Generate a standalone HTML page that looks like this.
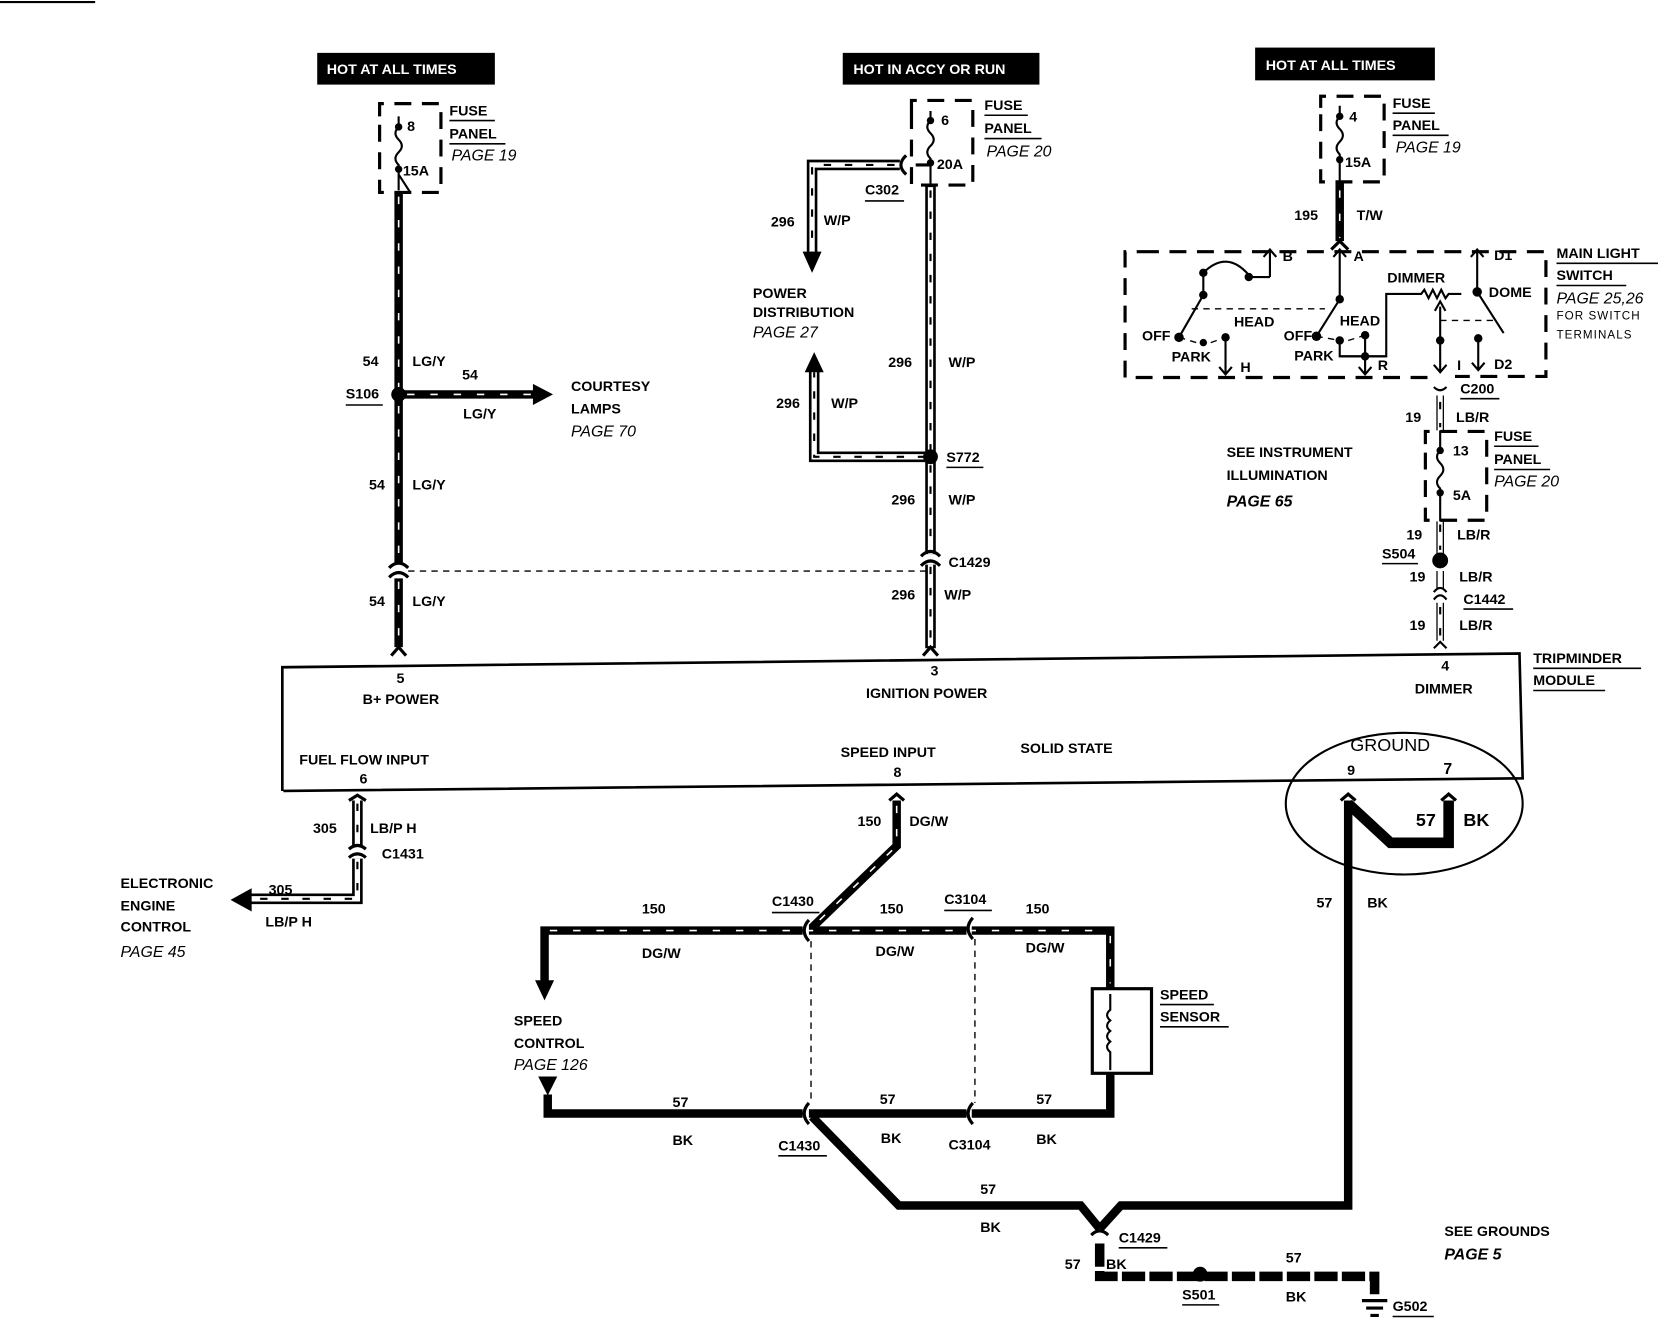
<!DOCTYPE html>
<html><head><meta charset="utf-8"><style>
html,body{margin:0;padding:0;background:#fff;width:1658px;height:1344px;overflow:hidden}
svg{display:block}
text{font-family:"Liberation Sans",sans-serif;font-weight:bold;font-size:13.5px;fill:#000}
.i{font-style:italic;font-weight:normal;font-size:15px}
.s{font-size:11px}
.w{fill:#fff}
.bw{fill:none;stroke:#000;stroke-width:8}
.st{fill:none;stroke:#fff;stroke-width:1.5;stroke-dasharray:7 15}
.hb{fill:none;stroke:#000;stroke-width:10}
.hw{fill:none;stroke:#fff;stroke-width:5}
.hd{fill:none;stroke:#000;stroke-width:2;stroke-dasharray:7 13}
.t{fill:none;stroke:#000;stroke-width:2}
.t3{fill:none;stroke:#000;stroke-width:3}
.d{fill:none;stroke:#000;stroke-width:3;stroke-dasharray:16 10}
.dl{fill:none;stroke:#000;stroke-width:1.3;stroke-dasharray:6 5}
.u{stroke:#000;stroke-width:1.5}
</style></head><body>
<svg width="1658" height="1344" viewBox="0 0 1568 1271" preserveAspectRatio="none" xmlns="http://www.w3.org/2000/svg">
<line x1="0" y1="2" x2="90" y2="2" stroke="#000" stroke-width="2"/>

<!-- header boxes -->
<rect x="300" y="50" width="168" height="30" fill="#000"/><text x="309" y="70" class="w">HOT AT ALL TIMES</text>
<rect x="797" y="50" width="186" height="30" fill="#000"/><text x="807" y="70" class="w">HOT IN ACCY OR RUN</text>
<rect x="1187" y="45" width="170" height="31" fill="#000"/><text x="1197" y="66" class="w">HOT AT ALL TIMES</text>

<!-- fuse 1 -->
<path class="d" d="M359 110 V98 H417 V182 H359 V110"/>
<path class="t" d="M377 110 V120 q-6 6 0 12 q6 6 0 12 q-6 6 0 12 V180 M377 165 L388 182"/>
<circle cx="377" cy="120" r="3.5"/><circle cx="377" cy="160" r="3.5"/>
<text x="385" y="124">8</text><text x="381" y="166">15A</text>
<text x="425" y="109">FUSE</text><line x1="425" y1="114" x2="468" y2="114" class="u"/>
<text x="425" y="131">PANEL</text><line x1="425" y1="136" x2="478" y2="136" class="u"/>
<text x="427" y="152" class="i">PAGE 19</text>

<!-- left wire -->
<path class="bw" d="M377 182 V533 M377 547 V612"/><path class="st" d="M377 186 V533 M377 550 V610"/>
<path class="bw" d="M377 373 H508"/><path class="st" d="M385 373 H505"/>
<polygon points="504,363 523,373 504,383"/>
<circle cx="377" cy="373" r="7"/>
<path class="t3" d="M368 537 Q377 528 386 537 M368 546 Q377 537 386 546"/>
<path class="t3" d="M370 620 L377 612 L384 620"/>
<path class="dl" d="M386 540 H878"/>
<text x="343" y="346">54</text><text x="390" y="346">LG/Y</text>
<text x="327" y="377">S106</text><line x1="327" y1="383" x2="362" y2="383" class="u"/>
<text x="437" y="359">54</text><text x="438" y="396">LG/Y</text>
<text x="540" y="370">COURTESY</text><text x="540" y="391">LAMPS</text><text x="540" y="413" class="i">PAGE 70</text>
<text x="349" y="463">54</text><text x="390" y="463">LG/Y</text>
<text x="349" y="573">54</text><text x="390" y="573">LG/Y</text>

<!-- fuse 2 -->
<path class="d" d="M862 106 V95 H920 V175 H862 V106"/>
<path class="t" d="M880 105 V114 q-6 6 0 12 q6 6 0 12 q-6 6 0 12 V175"/>
<circle cx="880" cy="114" r="3.5"/><circle cx="880" cy="154" r="3.5"/>
<text x="890" y="118">6</text><text x="886" y="160">20A</text>
<text x="931" y="104">FUSE</text><line x1="931" y1="109" x2="972" y2="109" class="u"/>
<text x="931" y="126">PANEL</text><line x1="931" y1="131" x2="985" y2="131" class="u"/>
<text x="933" y="148" class="i">PAGE 20</text>
<path class="hb" d="M880 175 V524 M880 534 V613"/><path class="hw" d="M880 177 V524 M880 534 V611"/><path class="hd" d="M880 180 V520 M880 536 V608"/>
<path class="hb" d="M851 156 H768 V244"/><path class="hw" d="M851 156 H768 V244"/><path class="hd" d="M846 156 H768 V240"/>
<polygon points="759,238 777,238 768,258"/>
<path class="t3" d="M857 147 Q847 156 857 165 M866 156 L880 156"/>
<path class="hb" d="M880 432 H770 V350"/><path class="hw" d="M880 432 H770 V350"/><path class="hd" d="M875 432 H770 V352"/>
<polygon points="761,352 779,352 770,333"/>
<circle cx="880" cy="432" r="7"/>
<path class="t3" d="M871 526 Q880 517 889 526 M871 535 Q880 526 889 535"/>
<path class="t3" d="M873 620 L880 612 L887 620"/>
<text x="818" y="184">C302</text><line x1="818" y1="190" x2="855" y2="190" class="u"/>
<text x="729" y="214">296</text><text x="779" y="213">W/P</text>
<text x="712" y="282">POWER</text><text x="712" y="300">DISTRIBUTION</text><text x="712" y="319" class="i">PAGE 27</text>
<text x="840" y="347">296</text><text x="897" y="347">W/P</text>
<text x="734" y="386">296</text><text x="786" y="386">W/P</text>
<text x="895" y="437">S772</text><line x1="895" y1="442" x2="930" y2="442" class="u"/>
<text x="843" y="477">296</text><text x="897" y="477">W/P</text>
<text x="897" y="536">C1429</text>
<text x="843" y="567">296</text><text x="893" y="567">W/P</text>

<!-- fuse 3 -->
<path class="d" d="M1249 102 V91 H1309 V172 H1249 V102"/>
<path class="t" d="M1267 100 V110 q-6 6 0 12 q6 6 0 12 q-6 6 0 12 V172"/>
<circle cx="1267" cy="110" r="3.5"/><circle cx="1267" cy="151" r="3.5"/>
<text x="1276" y="115">4</text><text x="1272" y="158">15A</text>
<text x="1317" y="102">FUSE</text><line x1="1317" y1="107" x2="1357" y2="107" class="u"/>
<text x="1317" y="123">PANEL</text><line x1="1317" y1="128" x2="1370" y2="128" class="u"/>
<text x="1320" y="144" class="i">PAGE 19</text>
<path class="bw" d="M1267 173 V228"/><path class="st" d="M1267 180 V225"/>
<path class="t3" d="M1259 236 L1267 228 L1275 236"/>
<text x="1224" y="208">195</text><text x="1283" y="208">T/W</text>

<!-- main light switch -->
<path class="d" d="M1080 238 H1462 V356 H1376 M1350 357 H1064 V238 H1080"/>
<g class="t">
<path d="M1201 262 V236 M1195 243 L1201 236 L1207 243 M1201 262 H1181"/>
<path d="M1181 260 Q1160 236 1138 258 V279 L1115 319"/>
<path d="M1267 236 V283 L1245 318 M1261 243 L1267 236 L1273 243"/>
<path d="M1159 319 V354 M1153 347 L1159 354 L1165 347"/>
<path d="M1291 317 V354 M1285 347 L1291 354 L1297 347"/>
<path d="M1267 322 V337 H1311 V278 H1344 l3 -4 l4 8 l4 -8 l4 8 l4 -8 l4 8 l3 -4 H1382"/>
<path d="M1362 290 V352 M1356 345 L1362 352 L1368 345 M1357 294 L1362 285 L1367 294"/>
<path d="M1397 236 V276 L1422 315 M1391 243 L1397 236 L1403 243"/>
<path d="M1398 320 V350 M1392 343 L1398 350 L1404 343"/>
<path d="M1267 337 H1311"/>
</g>
<path class="dl" d="M1127 292 H1253 M1362 303 H1412 M1115 319 L1138 326 M1145 324 L1159 319 M1245 318 L1267 322 M1275 322 L1291 317"/>
<g>
<circle cx="1181" cy="262" r="4"/><circle cx="1138" cy="258" r="4"/><circle cx="1138" cy="279" r="4"/>
<circle cx="1115" cy="319" r="4.5"/><circle cx="1138" cy="324" r="3.5"/><circle cx="1159" cy="319" r="4"/>
<circle cx="1267" cy="283" r="4"/><circle cx="1245" cy="318" r="4.5"/><circle cx="1267" cy="322" r="4"/><circle cx="1291" cy="317" r="4"/><circle cx="1291" cy="337" r="4"/>
<circle cx="1362" cy="322" r="4"/><circle cx="1397" cy="276" r="4.5"/><circle cx="1398" cy="320" r="4"/>
</g>
<g class="s">
<text x="1213" y="247">B</text><text x="1280" y="247">A</text><text x="1413" y="246">D1</text>
<text x="1312" y="267">DIMMER</text><text x="1408" y="281">DOME</text>
<text x="1167" y="309">HEAD</text><text x="1267" y="308">HEAD</text>
<text x="1080" y="322">OFF</text><text x="1214" y="322">OFF</text>
<text x="1108" y="342">PARK</text><text x="1224" y="341">PARK</text>
<text x="1173" y="352">H</text><text x="1303" y="350">R</text><text x="1378" y="350">I</text><text x="1413" y="349">D2</text>
</g>
<text x="1472" y="244">MAIN LIGHT</text><line x1="1472" y1="249" x2="1568" y2="249" class="u"/>
<text x="1472" y="265">SWITCH</text><line x1="1472" y1="270" x2="1538" y2="270" class="u"/>
<text x="1472" y="287" class="i">PAGE 25,26</text>
<text x="1472" y="302" class="s" style="font-weight:normal;letter-spacing:1px">FOR SWITCH</text>
<text x="1472" y="320" class="s" style="font-weight:normal;letter-spacing:1px">TERMINALS</text>

<!-- LB/R wire -->
<path class="t" d="M1356 366 Q1362 372 1368 366 M1356 560 Q1362 552 1368 560 M1356 567 Q1362 559 1368 567 M1356 613 L1362 607 L1368 613"/>
<path fill="none" stroke="#000" stroke-width="1.2" d="M1359 374 V407 M1365 374 V407 M1359 493 V524 M1365 493 V524 M1359 540 V557 M1365 540 V557 M1359 570 V606 M1365 570 V606"/>
<path class="hd" d="M1362 380 V404 M1362 496 V520 M1362 574 V604" stroke-width="1.5"/>
<text x="1381" y="372">C200</text><line x1="1381" y1="377" x2="1418" y2="377" class="u"/>
<text x="1329" y="399">19</text><text x="1377" y="399">LB/R</text>
<path class="d" d="M1348 420 V408 H1406 V492 H1348 V420"/>
<path class="t" d="M1362 407 V426 q-6 6 0 12 q6 6 0 12 q-6 6 0 12 V493"/>
<circle cx="1362" cy="426" r="3.5"/><circle cx="1362" cy="466" r="3.5"/>
<text x="1374" y="431">13</text><text x="1374" y="473">5A</text>
<text x="1413" y="417">FUSE</text><line x1="1413" y1="422" x2="1455" y2="422" class="u"/>
<text x="1413" y="439">PANEL</text><line x1="1413" y1="444" x2="1466" y2="444" class="u"/>
<text x="1413" y="460" class="i">PAGE 20</text>
<text x="1160" y="432">SEE INSTRUMENT</text><text x="1160" y="454">ILLUMINATION</text><text x="1160" y="479" class="i" style="font-weight:bold">PAGE 65</text>
<text x="1330" y="510">19</text><text x="1378" y="510">LB/R</text>
<circle cx="1362" cy="530" r="7.5"/>
<text x="1307" y="528">S504</text><line x1="1307" y1="533" x2="1341" y2="533" class="u"/>
<text x="1333" y="550">19</text><text x="1380" y="550">LB/R</text>
<text x="1384" y="571">C1442</text><line x1="1384" y1="576" x2="1431" y2="576" class="u"/>
<text x="1333" y="596">19</text><text x="1380" y="596">LB/R</text>

<!-- module -->
<path fill="none" stroke="#000" stroke-width="2.5" d="M267 748 V631 L1437 618 L1440 736 L268 748"/>
<text x="1450" y="627">TRIPMINDER</text><line x1="1450" y1="632" x2="1552" y2="632" class="u"/>
<text x="1450" y="648">MODULE</text><line x1="1450" y1="653" x2="1518" y2="653" class="u"/>
<g class="s">
<text x="375" y="646">5</text><text x="343" y="666">B+ POWER</text>
<text x="880" y="639">3</text><text x="819" y="660">IGNITION POWER</text>
<text x="1363" y="634">4</text><text x="1338" y="656">DIMMER</text>
<text x="283" y="723">FUEL FLOW INPUT</text><text x="340" y="741">6</text>
<text x="795" y="716">SPEED INPUT</text><text x="845" y="735">8</text>
<text x="1274" y="733">9</text>
</g>
<text x="965" y="712">SOLID STATE</text>
<ellipse cx="1328" cy="760" rx="112" ry="67" fill="none" stroke="#000" stroke-width="2"/>
<text x="1277" y="710" style="font-weight:normal;font-size:17px">GROUND</text>
<text x="1365" y="732" style="font-size:15px">7</text>
<text x="1339" y="781" style="font-size:17px">57</text><text x="1384" y="781" style="font-size:17px">BK</text>

<!-- fuel wire -->
<path class="hb" d="M338 757 V800 M338 812 V850 H236"/><path class="hw" d="M338 757 V800 M338 812 V850 H236"/><path class="hd" d="M338 760 V798 M338 815 V850 H240"/>
<polygon points="238,840 218,851 238,862"/>
<path class="t3" d="M330 757 L338 752 L346 757 M330 803 Q338 796 346 803 M330 811 Q338 804 346 811"/>
<text x="296" y="788">305</text><text x="350" y="788">LB/P H</text>
<text x="361" y="812">C1431</text>
<text x="254" y="846">305</text><text x="251" y="876">LB/P H</text>
<text x="114" y="840">ELECTRONIC</text><text x="114" y="861">ENGINE</text><text x="114" y="881">CONTROL</text><text x="114" y="905" class="i">PAGE 45</text>

<!-- speed wires -->
<path class="bw" d="M848 757 V800 L765 880"/><path class="st" d="M848 762 V800 L770 875"/>
<path class="t3" d="M841 757 L848 751 L855 757"/>
<path class="bw" d="M515 930 V880 H1050 V935"/><path class="st" d="M520 880 H1045 M1050 885 V930"/>
<polygon points="506,927 524,927 515,946"/>
<rect x="1033" y="935" width="56" height="80" fill="#fff" stroke="#000" stroke-width="3"/>
<path class="t" d="M1050 940 V955 q-6 5 0 10 q-6 5 0 10 q-6 5 0 10 q-6 5 0 10 V1012"/>
<path class="bw" d="M1050 1015 V1053 H518 V1035"/>
<polygon points="509,1018 527,1018 518,1036"/>
<path fill="#fff" d="M759 870 h6 v22 h-6z M914 868 h5 v22 h-5z M759 1043 h6 v22 h-6z M914 1043 h5 v22 h-5z"/>
<path class="t3" d="M765 870 Q756 880 765 890 M920 868 Q911 878 920 888 M765 1043 Q756 1053 765 1063 M920 1043 Q911 1053 920 1063"/>
<path class="dl" d="M767 890 V1043 M922 888 V1043"/>
<text x="607" y="864">150</text><text x="607" y="906">DG/W</text>
<text x="730" y="857">C1430</text><line x1="730" y1="863" x2="775" y2="863" class="u"/>
<text x="832" y="864">150</text>
<text x="893" y="855">C3104</text><line x1="893" y1="861" x2="938" y2="861" class="u"/>
<text x="970" y="864">150</text><text x="828" y="904">DG/W</text><text x="970" y="901">DG/W</text>
<text x="811" y="781">150</text><text x="860" y="781">DG/W</text>
<text x="1097" y="945">SPEED</text><line x1="1097" y1="950" x2="1148" y2="950" class="u"/>
<text x="1097" y="966">SENSOR</text><line x1="1097" y1="971" x2="1162" y2="971" class="u"/>
<text x="486" y="970">SPEED</text><text x="486" y="991">CONTROL</text><text x="486" y="1012" class="i">PAGE 126</text>
<text x="636" y="1047">57</text><text x="636" y="1083">BK</text>
<text x="832" y="1044">57</text><text x="833" y="1081">BK</text>
<text x="980" y="1044">57</text><text x="980" y="1082">BK</text>
<text x="736" y="1088">C1430</text><line x1="736" y1="1093" x2="782" y2="1093" class="u"/>
<text x="897" y="1087">C3104</text>

<!-- ground wires -->
<path class="bw" d="M768 1056 L850 1140 H1022 L1040 1162" stroke-width="9"/>
<path class="bw" d="M1275 757 V1140 H1060 L1040 1162" stroke-width="9"/>
<path fill="none" stroke="#000" stroke-width="10" d="M1275 760 L1315 797 H1370 V757"/>
<path class="t3" d="M1268 757 L1275 751 L1282 757 M1363 757 L1370 751 L1377 757"/>
<path class="t3" d="M1032 1168 Q1040 1160 1048 1168"/>
<path fill="none" stroke="#000" stroke-width="9" d="M1040 1176 V1207 H1300 V1225" stroke-dasharray="22 4"/>
<circle cx="1135" cy="1205" r="7"/>
<path fill="none" stroke="#000" stroke-width="3" d="M1288 1230 H1312 M1292 1237 H1308 M1296 1244 H1304"/>
<text x="927" y="1129">57</text><text x="927" y="1165">BK</text>
<text x="1245" y="858">57</text><text x="1293" y="858">BK</text>
<text x="1058" y="1175">C1429</text><line x1="1058" y1="1180" x2="1104" y2="1180" class="u"/>
<text x="1007" y="1200">57</text><text x="1046" y="1200">BK</text>
<text x="1118" y="1229">S501</text><line x1="1118" y1="1234" x2="1153" y2="1234" class="u"/>
<text x="1216" y="1194">57</text><text x="1216" y="1231">BK</text>
<text x="1317" y="1240">G502</text><line x1="1317" y1="1245" x2="1356" y2="1245" class="u"/>
<text x="1366" y="1169">SEE GROUNDS</text><text x="1366" y="1191" class="i" style="font-weight:bold">PAGE 5</text>
</svg>
</body></html>
